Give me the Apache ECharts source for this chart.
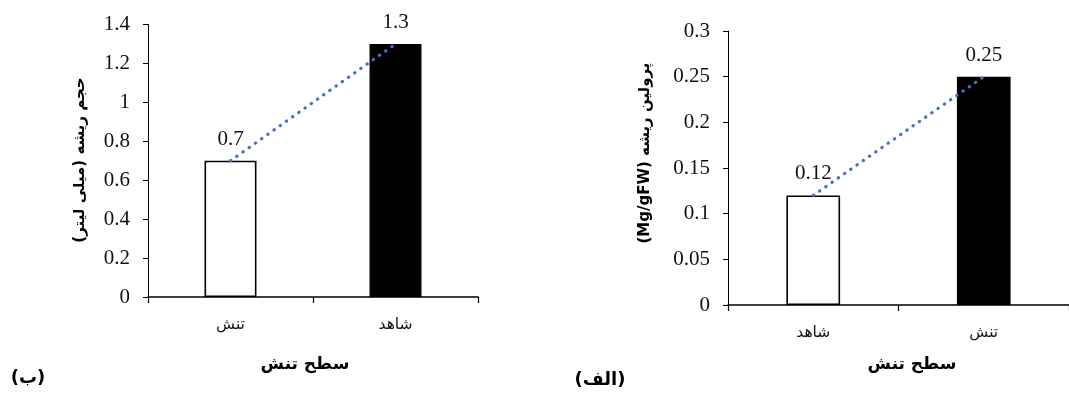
<!DOCTYPE html>
<html>
<head>
<meta charset="utf-8">
<script src="https://cdn.jsdelivr.net/npm/echarts@6/dist/echarts.min.js"></script>
<style>
html,body{margin:0;padding:0;background:#fff;}
#c{width:1069px;height:394px;}
</style>
</head>
<body>
<div id="c" dir="rtl"></div>
<script>
// Data
const leftCategories = ['تنش', 'شاهد'];
const leftValues = [0.7, 1.3];
const leftTitleY = 'حجم ریشه (میلی لیتر)';
const leftPanel = '(ب)';

const rightCategories = ['شاهد', 'تنش'];
const rightValues = [0.12, 0.25];
const rightTitleY = 'پرولین ریشه (Mg/gFW)';
const rightPanel = '(الف)';

const xTitle = 'سطح تنش';

const barStyles = [
  {color: '#ffffff', borderColor: '#000000', borderWidth: 1.6},
  {color: '#000000', borderColor: '#000000', borderWidth: 0}
];
const serif = '"Liberation Serif", "Times New Roman", serif';
const arab = '"DejaVu Sans", sans-serif';

function bars(vals) {
  return vals.map((v, i) => ({value: v, itemStyle: barStyles[i]}));
}

const chart = echarts.init(document.getElementById('c'), null, {renderer: 'canvas'});

function xAxis(gi, cats) {
  return {
    gridIndex: gi, type: 'category', data: cats,
    axisLine: {lineStyle: {color: '#000', width: 1.6}},
    axisTick: {show: true, length: 6, lineStyle: {color: '#000', width: 1.2}},
    axisLabel: {color: '#111', fontFamily: arab, fontSize: 15.5, margin: 20}
  };
}
function yAxis(gi, max, interval) {
  return {
    gridIndex: gi, type: 'value', min: 0, max: max, interval: interval,
    splitLine: {show: false},
    axisLine: {show: true, lineStyle: {color: '#000', width: 1}},
    axisTick: {show: true, length: 5, lineStyle: {color: '#000', width: 1}},
    axisLabel: {color: '#111', fontFamily: serif, fontSize: 21, margin: 18}
  };
}
function labelCfg() {
  return {show: true, position: 'top', distance: 11, color: '#111', fontFamily: serif, fontSize: 21};
}
function trend(gi, vals) {
  return {
    type: 'line', xAxisIndex: gi, yAxisIndex: gi, data: vals, symbol: 'none', silent: true,
    lineStyle: {color: '#4472C4', width: 3.2, type: [0.4, 7.2], cap: 'round'}, z: 5
  };
}

const option = {
  animation: false,
  backgroundColor: '#fff',
  grid: [
    {left: 148, top: 24.5, width: 330, height: 272.5},
    {left: 728, top: 31, width: 350, height: 274}
  ],
  xAxis: [xAxis(0, leftCategories), xAxis(1, rightCategories)],
  yAxis: [yAxis(0, 1.4, 0.2), yAxis(1, 0.3, 0.05)],
  series: [
    {type: 'bar', xAxisIndex: 0, yAxisIndex: 0, data: bars(leftValues), barWidth: '31.5%', label: labelCfg()},
    trend(0, leftValues),
    {type: 'bar', xAxisIndex: 1, yAxisIndex: 1, data: bars(rightValues), barWidth: '31.5%', label: labelCfg()},
    trend(1, rightValues)
  ],
  graphic: [
    {type: 'text', x: 80, y: 160, rotation: Math.PI / 2,
      style: {text: leftTitleY, font: 'bold 15px ' + arab, fill: '#000', align: 'center', verticalAlign: 'middle'}},
    {type: 'text', x: 645, y: 153, rotation: Math.PI / 2,
      style: {text: rightTitleY, font: 'bold 15px ' + arab, fill: '#000', align: 'center', verticalAlign: 'middle'}},
    {type: 'text', x: 305, y: 365,
      style: {text: xTitle, font: 'bold 17px ' + arab, fill: '#000', align: 'center', verticalAlign: 'middle'}},
    {type: 'text', x: 912, y: 365,
      style: {text: xTitle, font: 'bold 17px ' + arab, fill: '#000', align: 'center', verticalAlign: 'middle'}},
    {type: 'text', x: 28, y: 378,
      style: {text: leftPanel, font: 'bold 18px ' + arab, fill: '#000', align: 'center', verticalAlign: 'middle'}},
    {type: 'text', x: 600, y: 380,
      style: {text: rightPanel, font: 'bold 18px ' + arab, fill: '#000', align: 'center', verticalAlign: 'middle'}}
  ]
};
chart.setOption(option);
</script>
</body>
</html>
